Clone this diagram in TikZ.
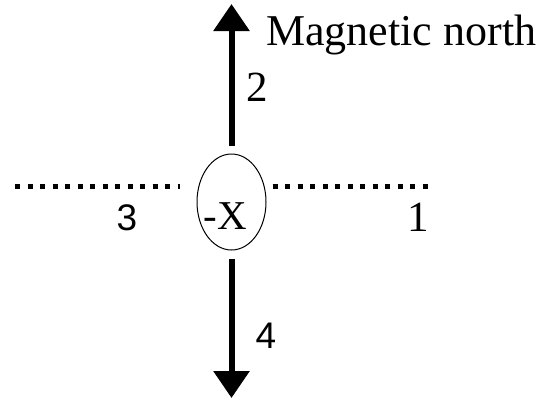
\documentclass[tikz,border=0pt]{standalone}
\usepackage{fontspec}
\setmainfont{Liberation Serif}
\newfontfamily\digitsans{Liberation Sans}
\usetikzlibrary{positioning, shapes.geometric, arrows.meta}

\tikzset{
  bigarrow/.style={line width=6pt, -{Triangle[length=27pt,width=35pt]}},
  fieldline/.style={line width=5pt, dash pattern=on 5pt off 7.5pt},
  serifnum/.style={inner sep=0pt, font=\fontsize{43}{50}\selectfont},
  sansnum/.style={inner sep=0pt, font=\digitsans\fontsize{37}{44}\selectfont}
}

\begin{document}
\begin{tikzpicture}[x=1pt, y=-1pt]
    \useasboundingbox (0,0) rectangle (546,400);
    % magnet in the middle
    \node[draw, ellipse, line width=1pt, minimum width=69pt, minimum height=96pt] (magnet) at (231.5,202) {};
    \node[inner sep=0pt, font=\fontsize{41}{48}\selectfont] (pole) at (225,216) {-X};
    \coordinate (ntip) at (231.5,4);
    \coordinate (stip) at (231.5,398);
    \coordinate (wend) at (15,186);
    \coordinate (eend) at (428,186);
    % arrows and field lines
    \draw[bigarrow] ([yshift=8pt]magnet.north) -- (ntip);
    \draw[bigarrow] ([yshift=-8pt]magnet.south) -- (stip);
    \draw[fieldline] (wend) -- ([xshift=-17pt]wend -| magnet.west);
    \draw[fieldline] ([xshift=6pt]eend -| magnet.east) -- (eend);
    % labels
    \node[inner sep=0pt, anchor=base west, font=\fontsize{44}{52}\selectfont] (north) at (266,45) {Magnetic north};
    \node[serifnum] (two) at (257,87) {2};
    \node[serifnum] (one) at (418,217) {1};
    \node[sansnum] (three) at (127,218) {3};
    \node[sansnum] (four) at (266,336) {4};
\end{tikzpicture}
\end{document}
